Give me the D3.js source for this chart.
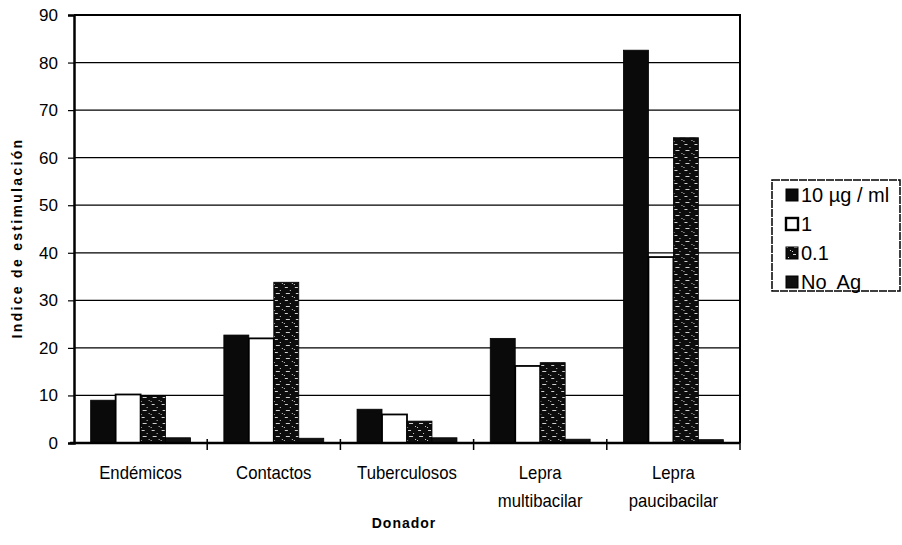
<!DOCTYPE html>
<html>
<head>
<meta charset="utf-8">
<script src="https://cdn.jsdelivr.net/npm/d3@7"></script>
<style>
  html, body { margin: 0; padding: 0; background: #fff; }
  svg { display: block; }
  text { font-family: Arial, "Liberation Sans", sans-serif; fill: #000; }
</style>
</head>
<body>
<svg id="chart" width="902" height="545"></svg>
<script>
// Donor groups (x categories), may wrap over two lines
const categories = ["Endémicos", "Contactos", "Tuberculosos", "Lepra multibacilar", "Lepra paucibacilar"];
const categoryLines = [["Endémicos"], ["Contactos"], ["Tuberculosos"], ["Lepra", "multibacilar"], ["Lepra", "paucibacilar"]];

// Antigen concentrations (series)
const seriesNames = ["10 µg / ml", "1", "0.1", "No  Ag"];

// Stimulation index per donor group, one array per concentration
const valuesHigh = [9.0, 22.7, 7.1, 22.0, 82.6];   // 10 µg / ml
const valuesOne  = [10.2, 22.0, 6.0, 16.2, 39.1];  // 1
const valuesTenth = [9.9, 33.8, 4.6, 16.9, 64.2];  // 0.1
const valuesNoAg = [1.1, 1.0, 1.1, 0.8, 0.7];      // No Ag

const yTicks = [0, 10, 20, 30, 40, 50, 60, 70, 80, 90];

const seriesValues = [valuesHigh, valuesOne, valuesTenth, valuesNoAg];

const svg = d3.select("#chart");
const plot = { left: 74, right: 740, top: 15, bottom: 443 };

// Speckled fill used for the 0.1 series
const defs = svg.append("defs");
const pat = defs.append("pattern")
  .attr("id", "speckle")
  .attr("patternUnits", "userSpaceOnUse")
  .attr("width", 10).attr("height", 13);
pat.append("rect").attr("width", 10).attr("height", 13).attr("fill", "#0c0c0c");
[[1, 1, 3, 1], [6, 4, 1, 1], [2, 7, 4, 1], [8, 10, 1, 1], [0, 11, 1, 1]].forEach(d => {
  pat.append("rect").attr("x", d[0]).attr("y", d[1]).attr("width", d[2]).attr("height", d[3])
    .attr("fill", "#d0d0d0");
});

const fills = ["#0a0a0a", "#ffffff", "url(#speckle)", "#111111"];

const x0 = d3.scaleBand()
  .domain(categories)
  .range([plot.left, plot.right])
  .paddingInner(0.25)
  .paddingOuter(0.125);

const x1 = d3.scaleBand()
  .domain(d3.range(seriesNames.length))
  .range([0, x0.bandwidth()])
  .padding(0);

const y = d3.scaleLinear().domain([0, 90]).range([plot.bottom, plot.top]);

// Horizontal gridlines
svg.append("g")
  .selectAll("line")
  .data(yTicks.filter(t => t > 0 && t < 90))
  .join("line")
  .attr("x1", plot.left).attr("x2", plot.right)
  .attr("y1", d => y(d)).attr("y2", d => y(d))
  .attr("stroke", "#000").attr("stroke-width", 1.2);

// Bars
const groups = svg.append("g")
  .selectAll("g")
  .data(categories)
  .join("g")
  .attr("transform", d => `translate(${x0(d)},0)`);

groups.selectAll("rect")
  .data((d, i) => seriesValues.map((vals, s) => ({ s, v: vals[i] })))
  .join("rect")
  .attr("x", d => x1(d.s))
  .attr("width", x1.bandwidth())
  .attr("y", d => y(d.v))
  .attr("height", d => y(0) - y(d.v))
  .attr("fill", d => fills[d.s])
  .attr("stroke", "#000")
  .attr("stroke-width", d => d.s === 1 ? 1.8 : 0.8);

// Plot frame (top and right edges)
svg.append("path")
  .attr("d", `M${plot.left},${plot.top}H${plot.right}V${plot.bottom}`)
  .attr("fill", "none").attr("stroke", "#000").attr("stroke-width", 2);

// Y axis
const yAxis = d3.axisLeft(y).tickValues(yTicks).tickSize(6).tickPadding(10);
const gy = svg.append("g")
  .attr("transform", `translate(${plot.left},0)`)
  .call(yAxis);
gy.select(".domain").attr("stroke-width", 2.5);
gy.selectAll(".tick line").attr("stroke-width", 1.2);
gy.selectAll(".tick text")
  .style("font-size", "17px")
  .style("font-family", "Arial, 'Liberation Sans', sans-serif");

// X axis baseline with ticks at category boundaries
const xAxisG = svg.append("g");
xAxisG.append("line")
  .attr("x1", plot.left - 4).attr("x2", plot.right)
  .attr("y1", plot.bottom).attr("y2", plot.bottom)
  .attr("stroke", "#000").attr("stroke-width", 2.5);
const boundaries = categories.map(c => x0(c) + x0.bandwidth() + x0.step() * x0.paddingInner() / 2);
xAxisG.selectAll("line.tk")
  .data(boundaries)
  .join("line")
  .attr("class", "tk")
  .attr("x1", d => d).attr("x2", d => d)
  .attr("y1", plot.bottom - 4).attr("y2", plot.bottom + 7)
  .attr("stroke", "#000").attr("stroke-width", 1.5);

// Category labels (slightly condensed)
const catLabels = svg.append("g")
  .selectAll("text")
  .data(categories)
  .join("text")
  .attr("x", d => x0(d) + x0.bandwidth() / 2)
  .attr("y", 479)
  .attr("text-anchor", "middle")
  .style("font-size", "18px")
  .attr("transform", d => {
    const cx = x0(d) + x0.bandwidth() / 2;
    return `translate(${cx},0) scale(0.93,1) translate(${-cx},0)`;
  });
catLabels.each(function (d, i) {
  const t = d3.select(this);
  categoryLines[i].forEach((line, k) => {
    t.append("tspan")
      .attr("x", x0(d) + x0.bandwidth() / 2)
      .attr("dy", k === 0 ? 0 : 28)
      .text(line);
  });
});

// Axis titles
svg.append("text")
  .attr("x", 404)
  .attr("y", 528)
  .attr("text-anchor", "middle")
  .style("font-size", "14px")
  .style("font-weight", "bold")
  .style("letter-spacing", "1px")
  .text("Donador");

svg.append("text")
  .attr("transform", `translate(22,238) rotate(-90)`)
  .attr("text-anchor", "middle")
  .style("font-size", "14px")
  .style("font-weight", "bold")
  .style("letter-spacing", "2.3px")
  .text("Indice de estimulación");

// Legend
const legend = svg.append("g").attr("transform", "translate(772,180)");
legend.append("rect")
  .attr("width", 128).attr("height", 111)
  .attr("fill", "#fff").attr("stroke", "#000").attr("stroke-width", 1.5)
  .attr("stroke-dasharray", "8,1");
const rows = legend.selectAll("g.row")
  .data(seriesNames)
  .join("g")
  .attr("class", "row")
  .attr("transform", (d, i) => `translate(0,${15 + i * 29})`);
rows.append("rect")
  .attr("x", 14).attr("y", -6)
  .attr("width", 12).attr("height", 12)
  .attr("fill", (d, i) => fills[i])
  .attr("stroke", "#000").attr("stroke-width", (d, i) => i === 1 ? 2.4 : 1);
rows.append("text")
  .attr("x", 29).attr("y", 7)
  .style("font-size", "20px")
  .style("white-space", "pre")
  .attr("xml:space", "preserve")
  .text(d => d);
</script>
</body>
</html>
